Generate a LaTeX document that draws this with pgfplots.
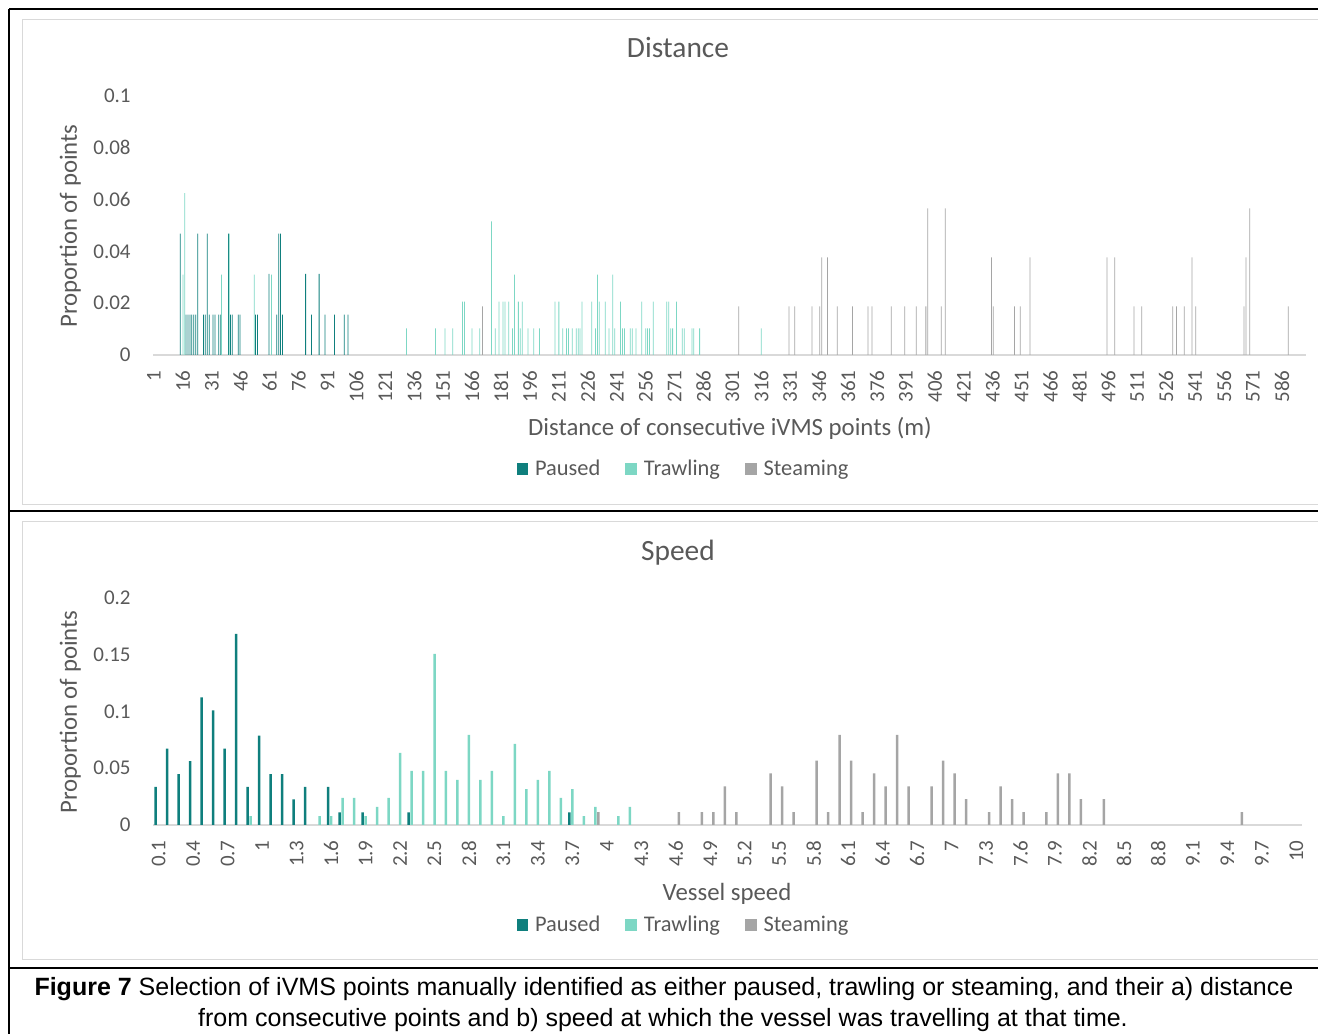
\documentclass[border=0pt]{standalone}
\usepackage{pgfplots}
\pgfplotsset{compat=1.18}
\usepackage{pgfplotstable}
\usepackage{fontspec}
\setmainfont{Carlito}
\newfontfamily\capfont{Liberation Sans}
\definecolor{paused}{HTML}{0F7F7D}
\definecolor{trawl}{HTML}{7DD7C4}
\definecolor{steam}{HTML}{A5A5A5}
\definecolor{txt}{HTML}{595959}
\definecolor{axgray}{HTML}{D9D9D9}

% ---------- Distance data (category = metres) ----------
\pgfplotstableread{
c v
15 0.0469
18 0.0156
19 0.0156
20 0.0156
21 0.0156
22 0.0156
23 0.0156
24 0.0469
27 0.0156
28 0.0156
29 0.0469
30 0.0156
32 0.0156
33 0.0156
35 0.0156
36 0.0156
40 0.0469
41 0.0156
42 0.0156
45 0.0156
46 0.0156
54 0.0156
55 0.0156
61 0.0313
65 0.0156
66 0.0469
67 0.0469
68 0.0156
80 0.0313
83 0.0156
87 0.0313
90 0.0156
95 0.0156
100 0.0156
102 0.0156
}\distpaused

\pgfplotstableread{
c v
16 0.0310
17 0.0625
36 0.0310
40 0.0469
53 0.0310
62 0.0310
132 0.0103
147 0.0103
152 0.0103
156 0.0103
161 0.0206
162 0.0206
166 0.0103
170 0.0103
176 0.0516
178 0.0103
180 0.0206
182 0.0206
183 0.0206
185 0.0206
187 0.0103
188 0.0310
190 0.0206
191 0.0103
192 0.0206
195 0.0103
198 0.0103
201 0.0103
209 0.0206
211 0.0206
213 0.0103
215 0.0103
216 0.0103
218 0.0103
220 0.0103
221 0.0103
222 0.0103
223 0.0206
228 0.0206
230 0.0103
231 0.0310
232 0.0206
235 0.0206
237 0.0103
239 0.0310
240 0.0103
243 0.0206
244 0.0103
245 0.0103
248 0.0103
249 0.0103
251 0.0103
254 0.0206
256 0.0103
257 0.0103
258 0.0103
260 0.0206
267 0.0206
268 0.0206
269 0.0103
270 0.0103
272 0.0206
275 0.0103
276 0.0103
280 0.0103
281 0.0103
284 0.0103
316 0.0103
}\disttrawl

\pgfplotstableread{
c v
171 0.0188
304 0.0188
330 0.0188
333 0.0188
342 0.0188
346 0.0188
347 0.0377
350 0.0377
355 0.0188
363 0.0188
371 0.0188
373 0.0188
383 0.0188
390 0.0188
396 0.0188
401 0.0188
402 0.0566
409 0.0188
411 0.0566
435 0.0377
436 0.0188
447 0.0188
450 0.0188
455 0.0377
495 0.0377
499 0.0377
509 0.0188
513 0.0188
529 0.0188
531 0.0188
535 0.0188
539 0.0377
541 0.0188
566 0.0188
567 0.0377
569 0.0566
589 0.0188
}\diststeam

% ---------- Speed data ----------
\pgfplotstableread{
s v
0.1 0.0337
0.2 0.0674
0.3 0.0449
0.4 0.0562
0.5 0.1124
0.6 0.1011
0.7 0.0674
0.8 0.1685
0.9 0.0337
1.0 0.0787
1.1 0.0449
1.2 0.0449
1.3 0.0225
1.4 0.0337
1.6 0.0337
1.7 0.0112
1.9 0.0112
2.3 0.0112
3.7 0.0112
}\spdpaused

\pgfplotstableread{
s v
0.9 0.0079
1.5 0.0079
1.6 0.0079
1.7 0.0238
1.8 0.0238
1.9 0.0079
2.0 0.0159
2.1 0.0238
2.2 0.0635
2.3 0.0476
2.4 0.0476
2.5 0.1508
2.6 0.0476
2.7 0.0397
2.8 0.0794
2.9 0.0397
3.0 0.0476
3.1 0.0079
3.2 0.0714
3.3 0.0317
3.4 0.0397
3.5 0.0476
3.6 0.0238
3.7 0.0317
3.8 0.0079
3.9 0.0159
4.1 0.0079
4.2 0.0159
}\spdtrawl

\pgfplotstableread{
s v
3.9 0.0114
4.6 0.0114
4.8 0.0114
4.9 0.0114
5.0 0.0341
5.1 0.0114
5.4 0.0455
5.5 0.0341
5.6 0.0114
5.8 0.0568
5.9 0.0114
6.0 0.0795
6.1 0.0568
6.2 0.0114
6.3 0.0455
6.4 0.0341
6.5 0.0795
6.6 0.0341
6.8 0.0341
6.9 0.0568
7.0 0.0455
7.1 0.0227
7.3 0.0114
7.4 0.0341
7.5 0.0227
7.6 0.0114
7.8 0.0114
7.9 0.0455
8.0 0.0455
8.1 0.0227
8.3 0.0227
9.5 0.0114
}\spdsteam

\pgfplotsset{
  excelstyle/.style={
    scale only axis,
    anchor=south west,
    ybar,
    axis x line=bottom,
    axis y line=left,
    x axis line style={-, draw=axgray, line width=0.8pt},
    y axis line style={draw=none},
    major tick length=0pt,
    scaled y ticks=false,
    enlargelimits=false,
    /pgf/number format/assume math mode=true,
    tick label style={font=\fontsize{10.5}{12}\selectfont, text=txt},
    yticklabel style={anchor=east, inner sep=0pt, xshift=-11pt},
    xticklabel style={rotate=90, anchor=east, inner sep=0pt, inner xsep=7.5pt},
    legend style={draw=none, fill=none, anchor=center,
      font=\fontsize{11.2}{13}\selectfont, text=txt,
      nodes={inner sep=0pt},
      legend columns=3, column sep=3.5pt,
      /tikz/every even column/.append style={column sep=12.5pt}},
    legend image code/.code={\fill[##1] (0pt,-2.9pt) rectangle (5.8pt,2.9pt);},
  }
}

\begin{document}
\begin{tikzpicture}
\useasboundingbox (0,0) rectangle (659pt,517pt);
% chart area frames
\draw[axgray, line width=0.5pt] (11pt,507pt) rectangle (662pt,264.5pt);
\draw[axgray, line width=0.5pt] (11pt,256pt) rectangle (662pt,37pt);
% table rules
\draw[black, line width=0.6pt] (4.5pt,512.5pt) -- (660pt,512.5pt);
\draw[black, line width=0.6pt] (4.5pt,512.5pt) -- (4.5pt,-1pt);
\draw[black, line width=1.1pt] (4.5pt,261.5pt) -- (660pt,261.5pt);
\draw[black, line width=0.6pt] (4.5pt,33pt) -- (660pt,33pt);

% ---------- Distance ----------
\begin{axis}[excelstyle,
  at={(76.5pt,339.5pt)},
  width=576.5pt, height=129.5pt,
  xmin=0.5, xmax=598.5, ymin=0, ymax=0.1,
  bar width=0.38pt,
  xtick={1,16,...,586},
  ytick={0,0.02,0.04,0.06,0.08,0.1},
  yticklabels={0,0.02,0.04,0.06,0.08,0.1},
  legend style={at={(0.4592,-0.4402)}},
]
\addplot[fill=paused, draw=none, bar shift=-0.33pt] table[x=c,y=v]{\distpaused};
\addplot[fill=trawl, draw=none, bar shift=0pt] table[x=c,y=v]{\disttrawl};
\addplot[fill=steam, draw=none, bar shift=0.33pt] table[x=c,y=v]{\diststeam};
\legend{Paused,Trawling,Steaming}
\end{axis}

% ---------- Speed ----------
\begin{axis}[excelstyle,
  at={(76.5pt,104.5pt)},
  width=574.5pt, height=113.5pt,
  xmin=0.05, xmax=10.05, ymin=0, ymax=0.2,
  bar width=1.25pt,
  xtick={0.1,0.4,0.7,1,1.3,1.6,1.9,2.2,2.5,2.8,3.1,3.4,3.7,4,4.3,4.6,4.9,5.2,5.5,5.8,6.1,6.4,6.7,7,7.3,7.6,7.9,8.2,8.5,8.8,9.1,9.4,9.7,10},
  xticklabels={0.1,0.4,0.7,1,1.3,1.6,1.9,2.2,2.5,2.8,3.1,3.4,3.7,4,4.3,4.6,4.9,5.2,5.5,5.8,6.1,6.4,6.7,7,7.3,7.6,7.9,8.2,8.5,8.8,9.1,9.4,9.7,10},
  ytick={0,0.05,0.1,0.15,0.2},
  yticklabels={0,0.05,0.1,0.15,0.2},
  legend style={at={(0.4608,-0.4405)}},
]
\addplot[fill=paused, draw=none, bar shift=-1.5pt] table[x=s,y=v]{\spdpaused};
\addplot[fill=trawl, draw=none, bar shift=0pt] table[x=s,y=v]{\spdtrawl};
\addplot[fill=steam, draw=none, bar shift=1.5pt] table[x=s,y=v]{\spdsteam};
\legend{Paused,Trawling,Steaming}
\end{axis}

% ---------- titles and axis labels ----------
\node[anchor=base, font=\fontsize{14.7}{17}\selectfont, text=txt] at (339pt,488pt) {Distance};
\node[anchor=base, font=\fontsize{14.7}{17}\selectfont, text=txt] at (339pt,236.5pt) {Speed};
\node[anchor=base, rotate=90, font=\fontsize{12.4}{15}\selectfont, text=txt] at (38.5pt,404pt) {Proportion of points};
\node[anchor=base, rotate=90, font=\fontsize{12.4}{15}\selectfont, text=txt] at (38.5pt,161pt) {Proportion of points};
\node[anchor=base, font=\fontsize{12.4}{15}\selectfont, text=txt] at (365pt,299pt) {Distance of consecutive iVMS points (m)};
\node[anchor=base, font=\fontsize{12.4}{15}\selectfont, text=txt] at (363.5pt,66.5pt) {Vessel speed};

% ---------- caption ----------
\node[anchor=base, font=\capfont\fontsize{12.5}{15}\selectfont] at (332pt,19pt) {\textbf{Figure 7} Selection of iVMS points manually identified as either paused, trawling or steaming, and their a) distance};
\node[anchor=base, font=\capfont\fontsize{12.5}{15}\selectfont] at (331.5pt,3.5pt) {from consecutive points and b) speed at which the vessel was travelling at that time.};
\end{tikzpicture}
\end{document}
